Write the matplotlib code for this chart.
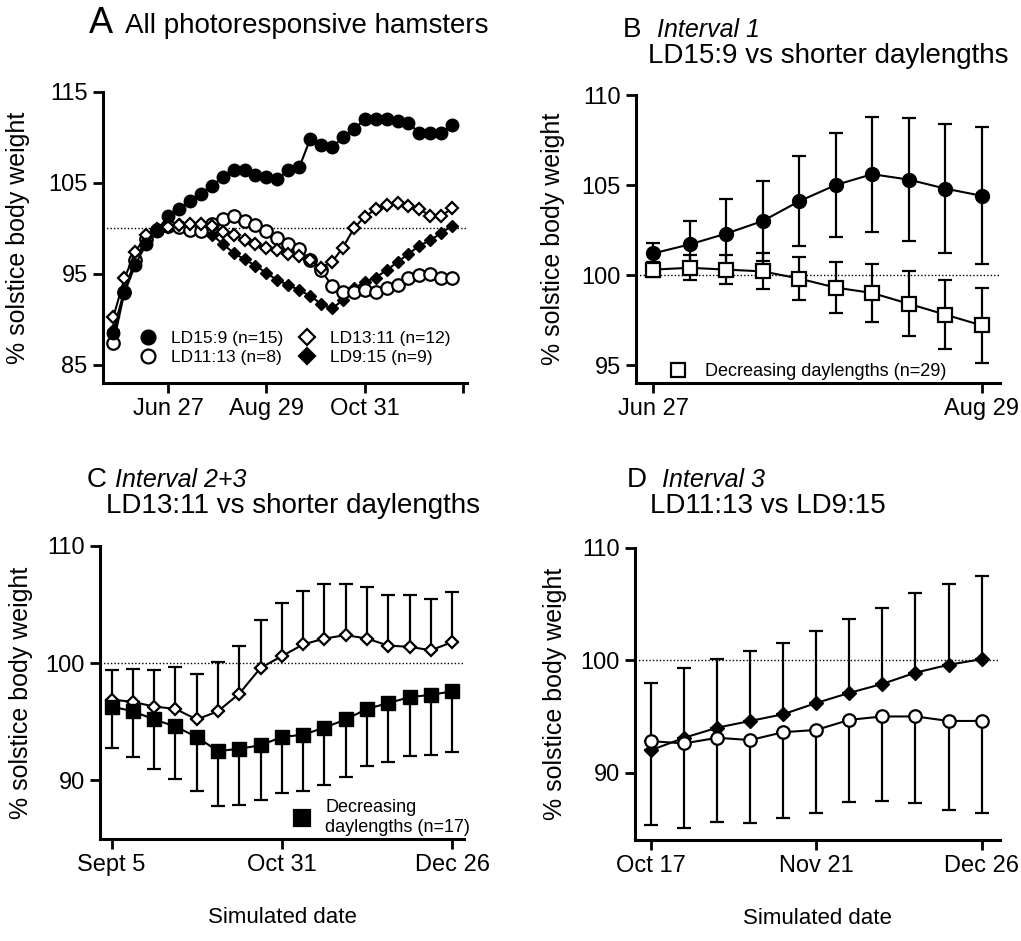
import matplotlib
matplotlib.use('Agg')
from matplotlib import pyplot as plt
from matplotlib.lines import Line2D
import numpy as np
import pandas as pd

plt.rcParams['font.family'] = ['Liberation Sans', 'DejaVu Sans']

ref = pd.Timestamp('2001-06-27')

# panel A: all photoresponsive hamsters, weekly means
dates_A = pd.date_range('2001-05-23', '2001-12-26', freq='7D')
ld15_A = [88.5, 92.9, 96.0, 98.3, 99.7, 101.4, 102.1, 103.0, 103.8, 104.7, 105.6, 106.4,
          106.4, 105.9, 105.6, 105.4, 106.4, 106.7, 109.8, 109.2, 108.9, 110.0, 110.9, 112.0,
          112.0, 112.0, 111.8, 111.6, 110.5, 110.5, 110.5, 111.4]
ld13_A = [90.3, 94.5, 97.4, 99.3, 99.9, 100.1, 100.4, 100.5, 100.5, 100.3, 99.6, 99.3,
          98.7, 98.3, 97.8, 97.6, 97.2, 97.0, 96.5, 95.7, 96.3, 97.9, 100.0, 101.3,
          102.1, 102.6, 102.8, 102.5, 102.1, 101.4, 101.4, 102.2]
ld11_A = [87.4, 93.0, 96.5, 98.8, 99.8, 100.3, 100.1, 99.8, 99.7, 100.5, 101.0, 101.4,
          100.8, 100.4, 99.7, 99.0, 98.3, 97.7, 96.5, 95.4, 93.7, 93.0, 93.0, 93.2,
          93.0, 93.5, 93.8, 94.6, 94.9, 95.0, 94.6, 94.6]
ld9_A = [88.8, 93.2, 96.5, 98.8, 99.8, 100.3, 100.5, 100.2, 99.9, 99.3, 98.3, 97.3,
         96.6, 95.9, 95.1, 94.3, 93.8, 93.2, 92.6, 91.7, 91.2, 92.1, 93.4, 94.1,
         94.6, 95.4, 96.3, 97.2, 98.1, 98.7, 99.5, 100.3]

# panel B: interval 1
dates_B = pd.date_range('2001-06-27', '2001-08-29', freq='7D')
ld15_B = [101.2, 101.7, 102.3, 103.0, 104.1, 105.0, 105.6, 105.3, 104.8, 104.4]
ld15_B_err = [0.6, 1.3, 1.9, 2.2, 2.5, 2.9, 3.2, 3.4, 3.6, 3.8]
dec_B = [100.3, 100.4, 100.3, 100.2, 99.8, 99.3, 99.0, 98.4, 97.8, 97.2]
dec_B_err = [0.4, 0.7, 0.8, 1.0, 1.2, 1.4, 1.6, 1.8, 1.9, 2.1]

# panel C: interval 2+3
dates_C = pd.date_range('2001-09-05', '2001-12-26', freq='7D')
ld13_C = [96.9, 96.7, 96.3, 96.1, 95.2, 95.9, 97.4, 99.6, 100.6, 101.6, 102.1, 102.4,
          102.1, 101.5, 101.4, 101.1, 101.8]
ld13_C_err = [2.5, 2.8, 3.1, 3.6, 3.9, 4.2, 4.1, 4.1, 4.5, 4.6, 4.7, 4.4, 4.4, 4.3, 4.4, 4.4, 4.3]
dec_C = [96.3, 95.9, 95.2, 94.6, 93.7, 92.5, 92.7, 93.0, 93.7, 93.9, 94.5, 95.2,
         96.1, 96.6, 97.1, 97.3, 97.6]
dec_C_err = [3.5, 3.9, 4.2, 4.5, 4.6, 4.7, 4.8, 4.7, 4.8, 4.8, 4.9, 4.9, 4.9, 5.0, 5.0, 5.1, 5.2]

# panel D: interval 3
dates_D = pd.date_range('2001-10-17', '2001-12-26', freq='7D')
ld9_D = [92.0, 93.1, 94.0, 94.6, 95.2, 96.2, 97.1, 97.9, 98.9, 99.6, 100.1]
ld9_D_err = [6.0, 6.2, 6.1, 6.2, 6.3, 6.4, 6.6, 6.8, 7.1, 7.2, 7.4]
ld11_D = [92.8, 92.6, 93.1, 92.9, 93.6, 93.8, 94.7, 95.0, 95.0, 94.6, 94.6]
ld11_D_err = [7.5, 7.5, 7.5, 7.4, 7.6, 7.4, 7.3, 7.5, 7.7, 7.9, 8.2]


def days(d):
    return np.asarray((d - ref).days)


def style(ax, xlim, ylim, yticks, xticks, xlabels, ylab_x):
    for s in ['top', 'right']:
        ax.spines[s].set_visible(False)
    for s in ['left', 'bottom']:
        ax.spines[s].set_linewidth(2.2)
    ax.set_xlim(*xlim)
    ax.set_ylim(*ylim)
    ax.set_yticks(yticks)
    ax.set_xticks(xticks)
    ax.set_xticklabels(xlabels)
    ax.tick_params(direction='out', length=7, width=2, labelsize=17, pad=4)
    ax.axhline(100, color='k', lw=1, ls=(0, (1, 1.5)), zorder=1)
    ax.set_ylabel('% solstice body weight', fontsize=18)
    ax.yaxis.set_label_coords(ylab_x, 0.5)


W, H = 1021, 941
fig = plt.figure(figsize=(W / 100, H / 100), dpi=100)


def axes_px(l, t, r, b):
    return fig.add_axes([l / W, 1 - b / H, (r - l) / W, (b - t) / H])


def proxy(marker, filled, ms, label):
    return Line2D([], [], ls='none', marker=marker, color='k', ms=ms,
                  mfc='k' if filled else 'white', mec='k', mew=1.6, label=label)


lw = 1.5
mew = 1.6

# ---- A
axA = axes_px(103, 92, 467, 383)
xa = days(dates_A)
axA.plot(xa, ld15_A, '-o', color='k', ms=9, lw=lw, zorder=5)
axA.plot(xa, ld11_A, '-o', color='k', mfc='white', mec='k', mew=mew, ms=9, lw=lw, zorder=3)
axA.plot(xa, ld13_A, '-D', color='k', mfc='white', mec='k', mew=mew, ms=6.5, lw=lw, zorder=4)
axA.plot(xa, ld9_A, '-D', color='k', ms=6.5, lw=lw, zorder=2)
style(axA, (-41.7, 191.5), (83, 115), [85, 95, 105, 115], [0, 63, 126, 189],
      ['Jun 27', 'Aug 29', 'Oct 31', ''], -0.2)
handlesA = [proxy('o', True, 10, 'LD15:9 (n=15)'), proxy('o', False, 10, 'LD11:13 (n=8)'),
            proxy('D', False, 8, 'LD13:11 (n=12)'), proxy('D', True, 8, 'LD9:15 (n=9)')]
axA.legend(handles=handlesA, ncol=2, loc='upper left', bbox_to_anchor=(0.1, 0.18),
           frameon=False, fontsize=12.5, handlelength=1.0, handletextpad=0.8,
           labelspacing=0.25, columnspacing=0.9, borderpad=0, borderaxespad=0)

# ---- B
axB = axes_px(636, 95, 1000, 383)
xb = days(dates_B)
axB.errorbar(xb, ld15_B, yerr=ld15_B_err, fmt='none', ecolor='k', elinewidth=1.6,
             capsize=5, capthick=1.6, zorder=2)
axB.errorbar(xb, dec_B, yerr=dec_B_err, fmt='none', ecolor='k', elinewidth=1.6,
             capsize=5, capthick=1.6, zorder=2)
axB.plot(xb, ld15_B, '-o', color='k', ms=10, lw=lw, zorder=4)
axB.plot(xb, dec_B, '-s', color='k', mfc='white', mec='k', mew=mew, ms=9.5, lw=lw, zorder=5)
style(axB, (-3.3, 66.5), (94, 110), [95, 100, 105, 110], [0, 63], ['Jun 27', 'Aug 29'], -0.195)
axB.legend(handles=[proxy('s', False, 10, 'Decreasing daylengths (n=29)')], loc='lower left',
           bbox_to_anchor=(0.09, 0.01), frameon=False, fontsize=13, handlelength=1.0,
           handletextpad=1.0, borderpad=0, borderaxespad=0)

# ---- C
axC = axes_px(100, 546, 464, 839)
xc = days(dates_C)
zc = np.zeros(len(xc))
axC.errorbar(xc, ld13_C, yerr=[zc, ld13_C_err], fmt='none', ecolor='k', elinewidth=1.6,
             capsize=5, capthick=1.6, zorder=2)
axC.errorbar(xc, dec_C, yerr=[dec_C_err, zc], fmt='none', ecolor='k', elinewidth=1.6,
             capsize=5, capthick=1.6, zorder=2)
axC.plot(xc, ld13_C, '-D', color='k', mfc='white', mec='k', mew=mew, ms=6, lw=lw, zorder=4)
axC.plot(xc, dec_C, '-s', color='k', ms=9.5, lw=lw, zorder=5)
style(axC, (66.2, 185.9), (85, 110), [90, 100, 110], [70, 126, 182],
      ['Sept 5', 'Oct 31', 'Dec 26'], -0.184)
axC.set_xlabel('Simulated date', fontsize=16, labelpad=22)
axC.legend(handles=[proxy('s', True, 11, 'Decreasing\ndaylengths (n=17)')], loc='lower left',
           bbox_to_anchor=(0.53, 0.01), frameon=False, fontsize=13, handlelength=1.0,
           handletextpad=0.8, borderpad=0, borderaxespad=0)

# ---- D
axD = axes_px(635, 548, 1000, 840)
xd = days(dates_D)
zd = np.zeros(len(xd))
axD.errorbar(xd, ld9_D, yerr=[zd, ld9_D_err], fmt='none', ecolor='k', elinewidth=1.6,
             capsize=5, capthick=1.6, zorder=2)
axD.errorbar(xd, ld11_D, yerr=[ld11_D_err, zd], fmt='none', ecolor='k', elinewidth=1.6,
             capsize=5, capthick=1.6, zorder=2)
axD.plot(xd, ld9_D, '-D', color='k', ms=7, lw=lw, zorder=4)
axD.plot(xd, ld11_D, '-o', color='k', mfc='white', mec='k', mew=mew, ms=9, lw=lw, zorder=5)
style(axD, (108.6, 185.9), (84, 110), [90, 100, 110], [112, 147, 182],
      ['Oct 17', 'Nov 21', 'Dec 26'], -0.186)
axD.set_xlabel('Simulated date', fontsize=16, labelpad=22)

# ---- panel titles


def ftext(x, y, s, **kw):
    fig.text(x / W, 1 - y / H, s, va='baseline', ha='left', **kw)


ftext(89, 33, 'A', fontsize=26)
ftext(125, 33, 'All photoresponsive hamsters', fontsize=20)
ftext(623, 37, 'B', fontsize=20)
ftext(657, 37, 'Interval 1', fontsize=18, style='italic')
ftext(648, 63, 'LD15:9 vs shorter daylengths', fontsize=20)
ftext(87, 487, 'C', fontsize=20)
ftext(115, 487, 'Interval 2+3', fontsize=18, style='italic')
ftext(106, 513, 'LD13:11 vs shorter daylengths', fontsize=20)
ftext(627, 487, 'D', fontsize=20)
ftext(662, 487, 'Interval 3', fontsize=18, style='italic')
ftext(650, 513, 'LD11:13 vs LD9:15', fontsize=20)

fig.savefig('out.png', dpi=100)
